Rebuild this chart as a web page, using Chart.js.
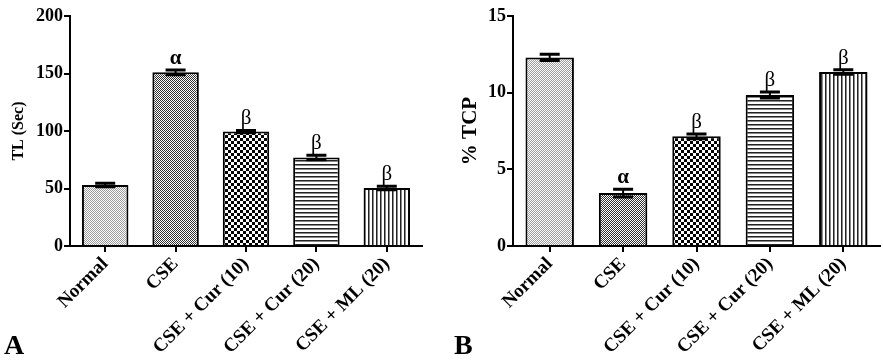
<!DOCTYPE html>
<html>
<head>
<meta charset="utf-8">
<script src="https://cdn.jsdelivr.net/npm/chart.js@4"></script>
<style>
    body { margin: 0; background: #fff; }
    #wrap { position: relative; width: 883px; height: 364px; }
    .panel { position: absolute; top: 0; height: 364px; }
    .letter { position: absolute; font: bold 28px "Liberation Serif", serif; color: #000; }
</style>
</head>
<body>
<div id="wrap">
    <div class="panel" style="left:0;width:441px"><canvas id="chartA"></canvas></div>
    <div class="panel" style="left:441px;width:442px"><canvas id="chartB"></canvas></div>
    <div class="letter" style="left:4px;top:329px">A</div>
    <div class="letter" style="left:454px;top:329px">B</div>
</div>
<script>
// groups
const groups = ['Normal', 'CSE', 'CSE + Cur (10)', 'CSE + Cur (20)', 'CSE + ML (20)'];

// panel A: tail latency
const tlMean = [53, 151, 99.5, 77, 50.5];
const tlErr = [1.5, 2, 1, 2, 1.5];
const tlMarks = ['', 'α', 'β', 'β', 'β'];
const tlTicks = [0, 50, 100, 150, 200];

// panel B: % TCP
const tcpMean = [12.3, 3.45, 7.15, 9.85, 11.35];
const tcpErr = [0.2, 0.25, 0.15, 0.2, 0.15];
const tcpMarks = ['', 'α', 'β', 'β', 'β'];
const tcpTicks = [0, 5, 10, 15];

const serif = '"Liberation Serif", "Times New Roman", serif';

function makePattern(kind) {
    const c = document.createElement('canvas');
    const g = c.getContext('2d');
    if (kind === 'dots') {
        c.width = 2; c.height = 2;
        g.fillStyle = '#fff'; g.fillRect(0, 0, 2, 2);
        g.fillStyle = '#9a9a9a';
        g.fillRect(0, 0, 1, 1); g.fillRect(1, 1, 1, 1);
    } else if (kind === 'fine') {
        c.width = 2; c.height = 2;
        g.fillStyle = '#fff'; g.fillRect(0, 0, 2, 2);
        g.fillStyle = '#333';
        g.fillRect(0, 0, 1, 1); g.fillRect(1, 1, 1, 1);
    } else if (kind === 'checker') {
        c.width = 6; c.height = 6;
        g.fillStyle = '#fff'; g.fillRect(0, 0, 6, 6);
        g.fillStyle = '#000';
        g.fillRect(0, 0, 3, 3); g.fillRect(3, 3, 3, 3);
    } else if (kind === 'hlines') {
        c.width = 4; c.height = 4;
        g.fillStyle = '#fff'; g.fillRect(0, 0, 4, 4);
        g.fillStyle = '#222'; g.fillRect(0, 0, 4, 1);
        g.fillStyle = '#888'; g.fillRect(0, 1, 4, 1);
    } else {
        c.width = 4; c.height = 4;
        g.fillStyle = '#fff'; g.fillRect(0, 0, 4, 4);
        g.fillStyle = '#222'; g.fillRect(0, 0, 1, 4);
        g.fillStyle = '#888'; g.fillRect(1, 0, 1, 4);
    }
    return g.createPattern(c, 'repeat');
}

const fills = ['dots', 'fine', 'checker', 'hlines', 'vlines'].map(makePattern);

// error bars + significance letters
const errorBars = {
    id: 'errorBars',
    afterDatasetsDraw(chart) {
        const ctx = chart.ctx;
        const ds = chart.data.datasets[0];
        const y = chart.scales.y;
        chart.getDatasetMeta(0).data.forEach((bar, i) => {
            const top = y.getPixelForValue(ds.data[i] + ds.err[i]);
            const low = y.getPixelForValue(ds.data[i] - ds.err[i]);
            ctx.save();
            ctx.strokeStyle = '#000';
            ctx.lineWidth = 2;
            ctx.beginPath();
            ctx.moveTo(bar.x, top); ctx.lineTo(bar.x, low);
            ctx.stroke();
            ctx.lineWidth = 3;
            ctx.beginPath();
            ctx.moveTo(bar.x - 10, top); ctx.lineTo(bar.x + 10, top);
            ctx.moveTo(bar.x - 10, low); ctx.lineTo(bar.x + 10, low);
            ctx.stroke();
            const m = ds.marks[i];
            if (m) {
                ctx.fillStyle = '#000';
                ctx.font = (m === 'α' ? 'bold ' : '') + '21px ' + serif;
                ctx.textAlign = 'center';
                ctx.textBaseline = 'bottom';
                ctx.fillText(m, bar.x, top - 1);
            }
            ctx.restore();
        });
    }
};

function buildChart(id, values, errs, marks, ticks, title, titleSize, titlePad, leftW, padRight) {
    return new Chart(document.getElementById(id), {
        type: 'bar',
        data: {
            labels: groups,
            datasets: [{
                data: values,
                err: errs,
                marks: marks,
                backgroundColor: fills,
                borderColor: '#000',
                borderWidth: 2,
                categoryPercentage: 1,
                barPercentage: 0.66
            }]
        },
        options: {
            responsive: true,
            maintainAspectRatio: false,
            animation: false,
            layout: { padding: { top: 16, right: padRight, bottom: 0, left: 0 } },
            plugins: { legend: { display: false }, tooltip: { enabled: false } },
            scales: {
                x: {
                    afterFit: s => { s.height = 118; },
                    grid: { offset: false, drawOnChartArea: false, color: '#000', lineWidth: 2, tickLength: 6 },
                    border: { display: true, color: '#000', width: 2 },
                    ticks: {
                        color: '#000', minRotation: 45, maxRotation: 45, padding: 1,
                        font: { family: serif, size: 19, weight: 'bold' }
                    }
                },
                y: {
                    min: ticks[0],
                    max: ticks[ticks.length - 1],
                    afterFit: s => { s.width = leftW; },
                    afterBuildTicks: s => { s.ticks = ticks.map(v => ({ value: v })); },
                    grid: { drawOnChartArea: false, color: '#000', lineWidth: 2, tickLength: 6 },
                    border: { display: true, color: '#000', width: 2 },
                    ticks: {
                        color: '#000', padding: 1,
                        font: { family: serif, size: 18, weight: 'bold' }
                    },
                    title: {
                        display: true, text: title, color: '#000',
                        padding: { top: titlePad, bottom: 0 },
                        font: { family: serif, size: titleSize, weight: 'bold' }
                    }
                }
            }
        },
        plugins: [errorBars]
    });
}

buildChart('chartA', tlMean, tlErr, tlMarks, tlTicks, 'TL (Sec)', 16, 9, 70, 19);
buildChart('chartB', tcpMean, tcpErr, tcpMarks, tcpTicks, '% TCP', 21, 17, 72, 3);
</script>
</body>
</html>
